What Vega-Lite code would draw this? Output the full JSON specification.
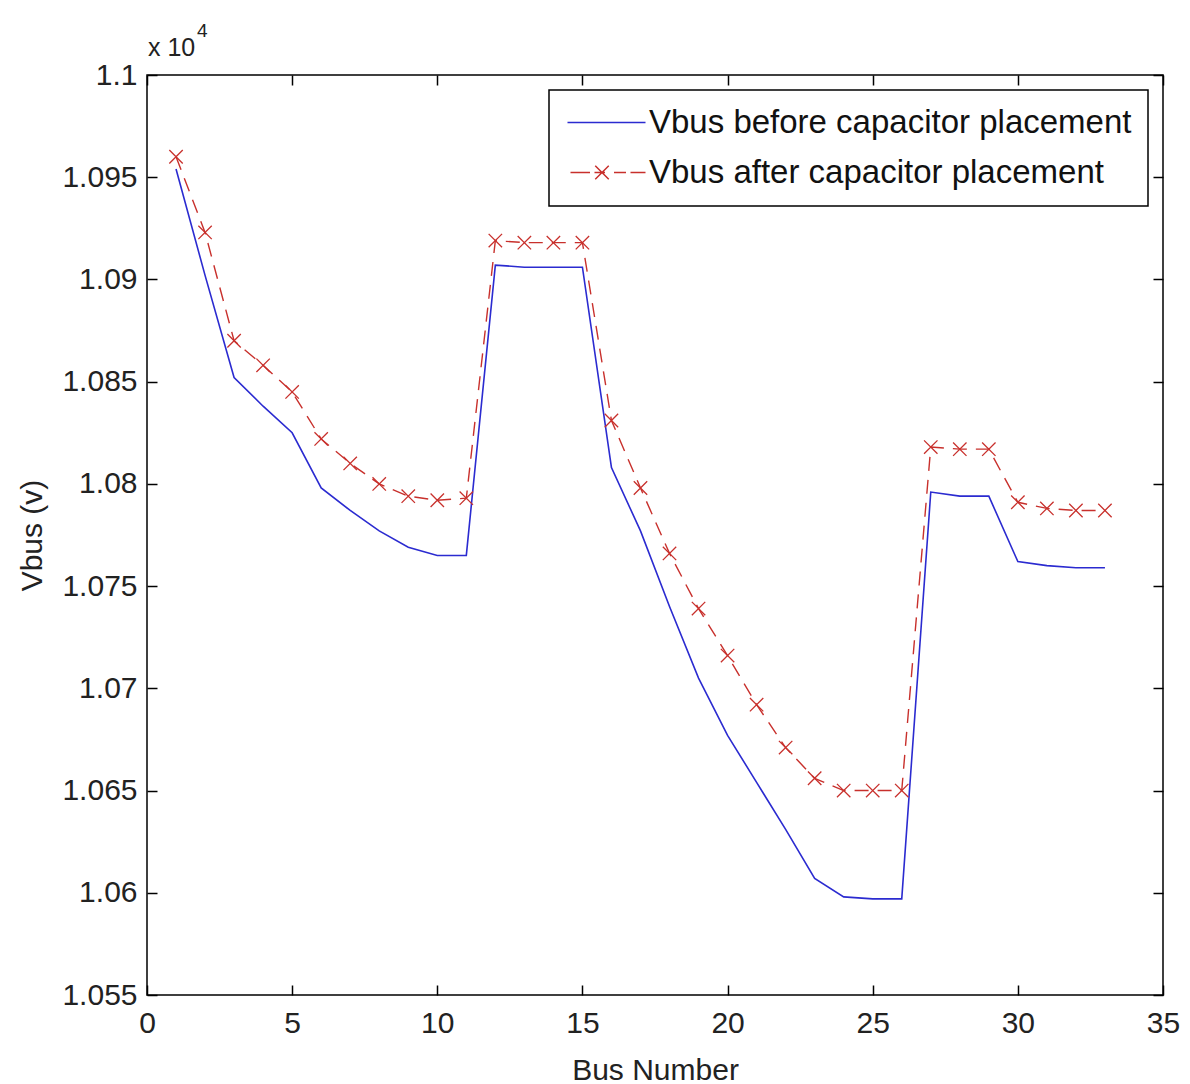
{
  "$schema": "https://vega.github.io/schema/vega-lite/v6.json",
  "width": 1016,
  "height": 920,
  "autosize": "none",
  "padding": {"left": 147, "top": 75, "right": 27, "bottom": 89},
  "background": "white",
  "data": {
    "values": [
      {"bus": 1, "series": "Vbus before capacitor placement", "v": 10954},
      {"bus": 2, "series": "Vbus before capacitor placement", "v": 10902},
      {"bus": 3, "series": "Vbus before capacitor placement", "v": 10852},
      {"bus": 4, "series": "Vbus before capacitor placement", "v": 10838},
      {"bus": 5, "series": "Vbus before capacitor placement", "v": 10825},
      {"bus": 6, "series": "Vbus before capacitor placement", "v": 10798},
      {"bus": 7, "series": "Vbus before capacitor placement", "v": 10787},
      {"bus": 8, "series": "Vbus before capacitor placement", "v": 10777},
      {"bus": 9, "series": "Vbus before capacitor placement", "v": 10769},
      {"bus": 10, "series": "Vbus before capacitor placement", "v": 10765},
      {"bus": 11, "series": "Vbus before capacitor placement", "v": 10765},
      {"bus": 12, "series": "Vbus before capacitor placement", "v": 10907},
      {"bus": 13, "series": "Vbus before capacitor placement", "v": 10906},
      {"bus": 14, "series": "Vbus before capacitor placement", "v": 10906},
      {"bus": 15, "series": "Vbus before capacitor placement", "v": 10906},
      {"bus": 16, "series": "Vbus before capacitor placement", "v": 10808},
      {"bus": 17, "series": "Vbus before capacitor placement", "v": 10777},
      {"bus": 18, "series": "Vbus before capacitor placement", "v": 10740},
      {"bus": 19, "series": "Vbus before capacitor placement", "v": 10705},
      {"bus": 20, "series": "Vbus before capacitor placement", "v": 10677},
      {"bus": 21, "series": "Vbus before capacitor placement", "v": 10654},
      {"bus": 22, "series": "Vbus before capacitor placement", "v": 10631},
      {"bus": 23, "series": "Vbus before capacitor placement", "v": 10607},
      {"bus": 24, "series": "Vbus before capacitor placement", "v": 10598},
      {"bus": 25, "series": "Vbus before capacitor placement", "v": 10597},
      {"bus": 26, "series": "Vbus before capacitor placement", "v": 10597},
      {"bus": 27, "series": "Vbus before capacitor placement", "v": 10796},
      {"bus": 28, "series": "Vbus before capacitor placement", "v": 10794},
      {"bus": 29, "series": "Vbus before capacitor placement", "v": 10794},
      {"bus": 30, "series": "Vbus before capacitor placement", "v": 10762},
      {"bus": 31, "series": "Vbus before capacitor placement", "v": 10760},
      {"bus": 32, "series": "Vbus before capacitor placement", "v": 10759},
      {"bus": 33, "series": "Vbus before capacitor placement", "v": 10759},
      {"bus": 1, "series": "Vbus after capacitor placement", "v": 10960},
      {"bus": 2, "series": "Vbus after capacitor placement", "v": 10923},
      {"bus": 3, "series": "Vbus after capacitor placement", "v": 10870},
      {"bus": 4, "series": "Vbus after capacitor placement", "v": 10858},
      {"bus": 5, "series": "Vbus after capacitor placement", "v": 10845},
      {"bus": 6, "series": "Vbus after capacitor placement", "v": 10822},
      {"bus": 7, "series": "Vbus after capacitor placement", "v": 10810},
      {"bus": 8, "series": "Vbus after capacitor placement", "v": 10800},
      {"bus": 9, "series": "Vbus after capacitor placement", "v": 10794},
      {"bus": 10, "series": "Vbus after capacitor placement", "v": 10792},
      {"bus": 11, "series": "Vbus after capacitor placement", "v": 10793},
      {"bus": 12, "series": "Vbus after capacitor placement", "v": 10919},
      {"bus": 13, "series": "Vbus after capacitor placement", "v": 10918},
      {"bus": 14, "series": "Vbus after capacitor placement", "v": 10918},
      {"bus": 15, "series": "Vbus after capacitor placement", "v": 10918},
      {"bus": 16, "series": "Vbus after capacitor placement", "v": 10831},
      {"bus": 17, "series": "Vbus after capacitor placement", "v": 10798},
      {"bus": 18, "series": "Vbus after capacitor placement", "v": 10766},
      {"bus": 19, "series": "Vbus after capacitor placement", "v": 10739},
      {"bus": 20, "series": "Vbus after capacitor placement", "v": 10716},
      {"bus": 21, "series": "Vbus after capacitor placement", "v": 10692},
      {"bus": 22, "series": "Vbus after capacitor placement", "v": 10671},
      {"bus": 23, "series": "Vbus after capacitor placement", "v": 10656},
      {"bus": 24, "series": "Vbus after capacitor placement", "v": 10650},
      {"bus": 25, "series": "Vbus after capacitor placement", "v": 10650},
      {"bus": 26, "series": "Vbus after capacitor placement", "v": 10650},
      {"bus": 27, "series": "Vbus after capacitor placement", "v": 10818},
      {"bus": 28, "series": "Vbus after capacitor placement", "v": 10817},
      {"bus": 29, "series": "Vbus after capacitor placement", "v": 10817},
      {"bus": 30, "series": "Vbus after capacitor placement", "v": 10791},
      {"bus": 31, "series": "Vbus after capacitor placement", "v": 10788},
      {"bus": 32, "series": "Vbus after capacitor placement", "v": 10787},
      {"bus": 33, "series": "Vbus after capacitor placement", "v": 10787}
    ]
  },
  "layer": [
    {
      "transform": [{"filter": "datum.series === 'Vbus before capacitor placement'"}],
      "mark": {"type": "line", "color": "#2b2bd0", "strokeWidth": 1.6},
      "encoding": {
        "x": {"field": "bus", "type": "quantitative", "scale": {"domain": [0, 35], "nice": false, "zero": false},
              "axis": {"orient": "bottom", "values": [0, 5, 10, 15, 20, 25, 30, 35], "title": "Bus Number", "labelPadding": 23, "titlePadding": 17}},
        "y": {"field": "v", "type": "quantitative", "scale": {"domain": [10550, 11000], "nice": false, "zero": false},
              "axis": {"orient": "left", "values": [10550, 10600, 10650, 10700, 10750, 10800, 10850, 10900, 10950, 11000],
                       "labelExpr": "format(datum.value / 10000, '.4~f')", "title": "Vbus (v)", "labelPadding": 20, "titlePadding": 14}}
      }
    },
    {
      "transform": [{"filter": "datum.series === 'Vbus after capacitor placement'"}],
      "mark": {"type": "line", "color": "#c8302c", "strokeWidth": 1.4, "strokeDash": [14, 9]},
      "encoding": {
        "x": {"field": "bus", "type": "quantitative",
              "axis": {"orient": "top", "values": [0, 5, 10, 15, 20, 25, 30, 35], "labels": false, "title": null}},
        "y": {"field": "v", "type": "quantitative",
              "axis": {"orient": "right", "values": [10550, 10600, 10650, 10700, 10750, 10800, 10850, 10900, 10950, 11000], "labels": false, "title": null}}
      }
    },
    {
      "transform": [{"filter": "datum.series === 'Vbus after capacitor placement'"}],
      "mark": {"type": "point", "shape": "M-1,-1L1,1M-1,1L1,-1", "filled": false, "color": "#c8302c", "strokeWidth": 1.3, "size": 180, "opacity": 1},
      "encoding": {
        "x": {"field": "bus", "type": "quantitative", "axis": null},
        "y": {"field": "v", "type": "quantitative", "axis": null}
      }
    },
    {
      "mark": {"type": "point", "filled": false, "opacity": 0, "strokeWidth": 1.5},
      "encoding": {
        "x": {"field": "bus", "type": "quantitative", "axis": null},
        "y": {"field": "v", "type": "quantitative", "axis": null},
        "color": {"field": "series", "type": "nominal",
                  "scale": {"domain": ["Vbus before capacitor placement", "Vbus after capacitor placement"], "range": ["#2b2bd0", "#c8302c"]},
                  "legend": {"title": null, "orient": "top-right", "offset": 15, "symbolOpacity": 1}},
        "shape": {"field": "series", "type": "nominal",
                  "scale": {"domain": ["Vbus before capacitor placement", "Vbus after capacitor placement"],
                            "range": ["M-2.6,0H2.6", "M-2.4,0H-1.1M-0.8,0H-0.1M0.5,0H1.3M1.6,0H2.6M-0.75,-0.45L0.15,0.45M-0.75,0.45L0.15,-0.45"]},
                  "legend": {"title": null, "orient": "top-right", "offset": 15, "symbolOpacity": 1}}
      }
    },
    {
      "data": {"values": [{"bus": 0, "v": 11000, "t": "x 10"}]},
      "mark": {"type": "text", "align": "left", "baseline": "alphabetic", "dx": 1, "dy": -19, "fontSize": 25, "font": "Liberation Sans", "color": "#222"},
      "encoding": {
        "x": {"field": "bus", "type": "quantitative", "axis": null},
        "y": {"field": "v", "type": "quantitative", "axis": null},
        "text": {"field": "t"}
      }
    },
    {
      "data": {"values": [{"bus": 0, "v": 11000, "t": "4"}]},
      "mark": {"type": "text", "align": "left", "baseline": "alphabetic", "dx": 50, "dy": -38, "fontSize": 19, "font": "Liberation Sans", "color": "#222"},
      "encoding": {
        "x": {"field": "bus", "type": "quantitative", "axis": null},
        "y": {"field": "v", "type": "quantitative", "axis": null},
        "text": {"field": "t"}
      }
    }
  ],
  "resolve": {"axis": {"x": "independent", "y": "independent"}},
  "config": {
    "font": "Liberation Sans",
    "view": {"stroke": "#000", "strokeWidth": 1.5},
    "axis": {
      "domain": false, "grid": false, "ticks": true, "tickColor": "#000", "tickWidth": 1.5, "tickSize": -10,
      "labelFlush": false, "labelOverlap": false,
      "labelFont": "Liberation Sans", "labelFontSize": 30, "labelColor": "#222",
      "titleFont": "Liberation Sans", "titleFontSize": 30, "titleFontWeight": "normal", "titleColor": "#222"
    },
    "legend": {
      "fillColor": "white", "strokeColor": "#000", "strokeWidth": 1.5, "padding": 16, "cornerRadius": 0,
      "labelFont": "Liberation Sans", "labelFontSize": 33, "labelColor": "#111", "labelLimit": 800, "labelOffset": 26,
      "symbolSize": 900, "symbolOffset": 25, "symbolStrokeWidth": 1.5, "rowPadding": 16
    }
  }
}
